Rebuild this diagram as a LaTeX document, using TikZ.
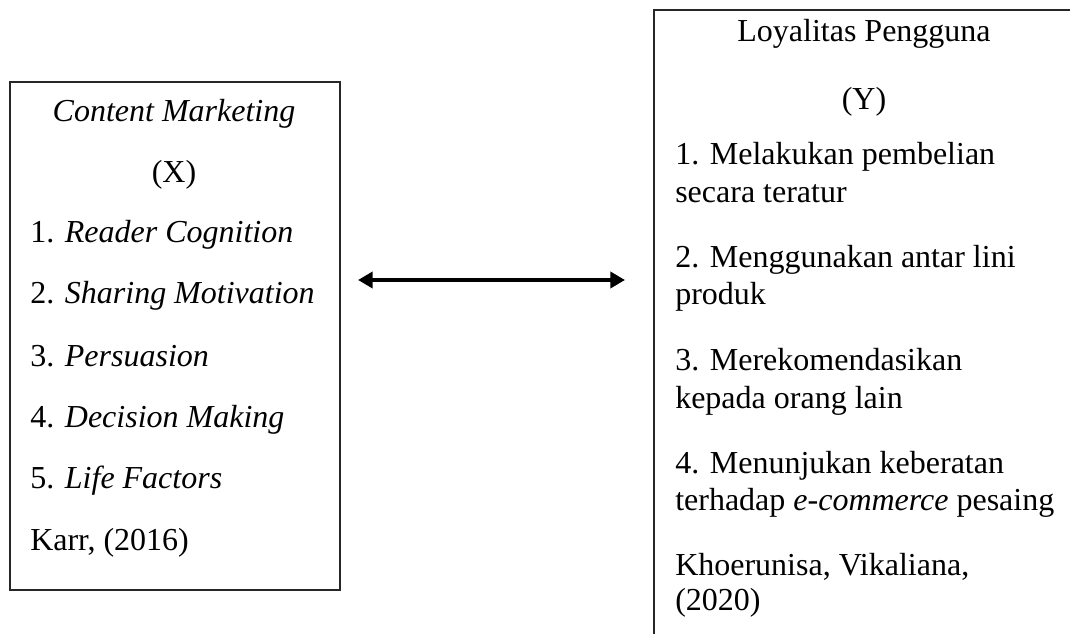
\documentclass[tikz,border=0pt]{standalone}
\usepackage{fontspec}
\setmainfont{Liberation Serif}
\usetikzlibrary{arrows.meta}
\begin{document}
\begin{tikzpicture}[x=0.75pt,y=-0.75pt,
  boxst/.style={draw=black!85, line width=1.3pt, inner sep=0pt, anchor=north west},
  txt/.style={inner sep=0pt, anchor=base west, font=\fontsize{24}{28}\selectfont},
  ttl/.style={inner sep=0pt, anchor=base, font=\fontsize{24}{28}\selectfont},
  arr/.style={line width=3pt, {Triangle[length=11pt,width=12pt]}-{Triangle[length=11pt,width=12pt]}}]
\useasboundingbox (0,0) rectangle (1070,634);
\clip (0,0) rectangle (1070,634);
% left box
\node[boxst, minimum width=247.5pt, minimum height=381pt] (lbox) at (9,81) {};
\node[ttl] (l0) at (174,122) {\textit{Content Marketing}};
\node[ttl] (l1) at (174,183) {(X)};
\node[txt] (l2) at (30,243) {1. \textit{Reader Cognition}};
\node[txt] (l3) at (30,304) {2. \textit{Sharing Motivation}};
\node[txt] (l4) at (30,366) {3. \textit{Persuasion}};
\node[txt] (l5) at (30,427) {4. \textit{Decision Making}};
\node[txt] (l6) at (30,488) {5. \textit{Life Factors}};
\node[txt] (l7) at (30,550) {Karr, (2016)};
% right box
\node[boxst, minimum width=316.5pt, minimum height=525pt] (rbox) at (653,9) {};
\node[ttl] (r0) at (864,42) {Loyalitas Pengguna};
\node[ttl] (r1) at (864,110) {(Y)};
\node[txt] (r2) at (675,165) {1. Melakukan pembelian};
\node[txt] (r3) at (675,203) {secara teratur};
\node[txt] (r4) at (675,268) {2. Menggunakan antar lini};
\node[txt] (r5) at (675,305) {produk};
\node[txt] (r6) at (675,370) {3. Merekomendasikan};
\node[txt] (r7) at (675,408) {kepada orang lain};
\node[txt] (r8) at (675,473) {4. Menunjukan keberatan};
\node[txt] (r9) at (675,510) {terhadap \textit{e-commerce} pesaing};
\node[txt] (r10) at (675,575) {Khoerunisa, Vikaliana,};
\node[txt] (r11) at (675,610) {(2020)};
% arrow
\coordinate (a1) at (358,280);
\coordinate (a2) at (625,280);
\draw[arr] (a1) -- (a2);
\end{tikzpicture}
\end{document}
